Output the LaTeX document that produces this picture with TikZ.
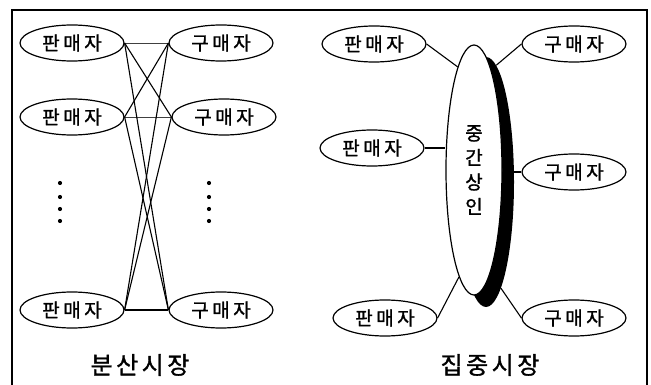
\documentclass[tikz,border=0pt]{standalone}
\usepackage{fontspec}
\newfontfamily\kr[FakeBold=1.2]{Noto Sans CJK KR}
\usetikzlibrary{shapes.geometric}
\newcommand\kg{\hspace{3.5pt}}
\tikzset{
  party/.style={ellipse, draw, line width=1.2pt, inner sep=0pt, minimum width=104pt, minimum height=36pt,
    font=\kr\fontsize{19}{21}\selectfont},
  link/.style={line width=1.1pt},
  thin link/.style={line width=0.6pt, black!75},
  frame/.style={line width=1.3pt},
  title/.style={font=\kr\fontsize{24}{26}\selectfont, inner sep=0pt},
  dot/.style={circle, fill=black, inner sep=0pt, minimum size=4.2pt},
}
\begin{document}
\begin{tikzpicture}[x=1pt,y=-1pt]
\useasboundingbox (0,0) rectangle (651,385);
\draw[frame] (12,385) -- (12,10) -- (647,10) -- (647,385);

% ---- left: distributed market
\node[party] (s1) at (72,43) {판\kg 매\kg 자};
\node[party] (s2) at (72,117) {판\kg 매\kg 자};
\node[party] (s3) at (72,310) {판\kg 매\kg 자};
\node[party] (b1) at (221,43) {구\kg 매\kg 자};
\node[party] (b2) at (224,117) {구\kg 매\kg 자};
\node[party] (b3) at (221,310) {구\kg 매\kg 자};

\draw[thin link] (s1.east) -- (b1.west);
\draw[thin link] (s2.east) -- (b2.west);
\draw[link] (s3.east) -- (b3.west);
\draw[link] (s1.east) -- (b2.west);
\draw[link] (s1.east) -- (b3.west);
\draw[link] (s2.east) -- (b1.west);
\draw[link] (s2.east) -- (b3.west);
\draw[link] (s3.east) -- (b1.west);
\draw[link] (s3.east) -- (b2.west);

\foreach \i/\yy in {1/183,2/197,3/209,4/221} {
  \node[dot] (ld\i) at (60,\yy) {};
  \node[dot] (rd\i) at (209,\yy) {};
}

\node[title] (t1) at (140,365) {분\kg 산\kg 시\kg 장};

% ---- right: centralized market
\node[ellipse, fill=black, inner sep=0pt, minimum width=56pt, minimum height=250pt] (shad) at (486,182) {};
\node[ellipse, draw, fill=white, line width=1.2pt, inner sep=0pt, minimum width=56pt, minimum height=250pt,
  align=center, font=\kr\fontsize{19}{24.5}\selectfont] (mid) at (474,170) {중\\간\\상\\인};

\node[party] (rs1) at (374,44) {판\kg 매\kg 자};
\node[party] (rs2) at (372,148) {판\kg 매\kg 자};
\node[party] (rs3) at (385,318) {판\kg 매\kg 자};
\node[party] (rb1) at (574,44) {구\kg 매\kg 자};
\node[party] (rb2) at (574,172) {구\kg 매\kg 자};
\node[party] (rb3) at (574,318) {구\kg 매\kg 자};

\draw[link] (rs1.east) -- (mid.99);
\draw[link] (rs2.east) -- (rs2.east -| mid.west);
\draw[link] (rs3.east) -- (mid.262);
\draw[link] (rb1.west) -- (shad.85);
\draw[link] (rb2.west) -- (rb2.west -| shad.east);
\draw[link] (rb3.west) -- (shad.278);

\node[title] (t2) at (490,365) {집\kg 중\kg 시\kg 장};
\end{tikzpicture}
\end{document}
